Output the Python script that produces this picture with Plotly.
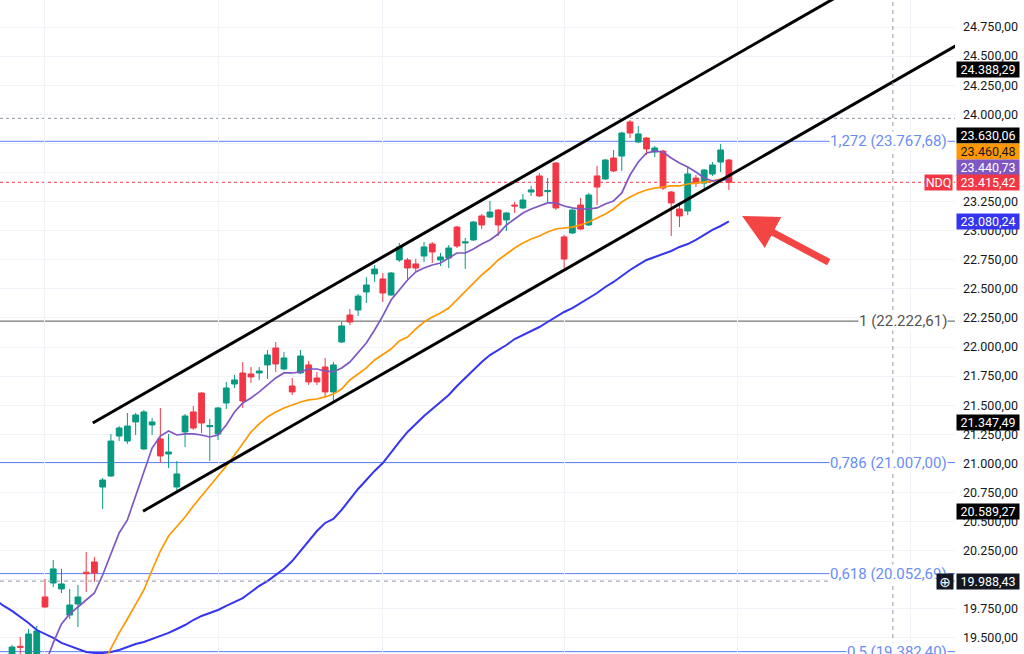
import plotly.graph_objects as go

# ---------------- data ----------------
candle_idx = list(range(88))
opens = [19330, 19428, 19340, 19350, 19852, 19972, 19921, 19697, 19792, 20065,
         20153, 20797, 20892, 21235, 21192, 21356, 21124, 21330, 21210, 21081,
         20797, 21270, 21442, 21605, 21315, 21253, 21519, 21682, 21777, 21768,
         21777, 21846, 21992, 21811, 21665, 21777, 21846, 21734, 21828, 21614,
         22043, 22275, 22318, 22473, 22628, 22585, 22447, 22748, 22748, 22714,
         22782, 22885, 22748, 22765, 23031, 22894, 22920, 23126, 23117, 23177,
         23092, 23220, 23195, 23332, 23470, 23335, 23581, 22946, 22980, 23220,
         23049, 23470, 23444, 23624, 23641, 23934, 23762, 23796, 23676, 23684,
         23332, 23186, 23169, 23452, 23409, 23487, 23590, 23607]
highs = [19440, 19508, 19577, 19603, 20007, 20170, 20093, 19921, 19955, 20239,
         20196, 20875, 21253, 21321, 21433, 21433, 21459, 21390, 21476, 21253,
         21021, 21424, 21493, 21610, 21382, 21485, 21700, 21760, 21871, 21828,
         21828, 21974, 22043, 21957, 21734, 21974, 21880, 21786, 21906, 21870,
         22215, 22327, 22455, 22602, 22705, 22636, 22645, 22894, 22765, 22757,
         22903, 22903, 22808, 22877, 23040, 22937, 23083, 23143, 23255, 23186,
         23160, 23246, 23315, 23384, 23495, 23452, 23590, 22963, 23186, 23281,
         23324, 23556, 23616, 23693, 23848, 23951, 23899, 23805, 23727, 23693,
         23341, 23220, 23556, 23478, 23530, 23590, 23745, 23616]
lows = [19300, 19330, 19320, 19320, 19760, 19938, 19886, 19663, 19594, 19895,
        19981, 20608, 20883, 21192, 21167, 21244, 21115, 21244, 21004, 20960,
        20763, 21141, 21287, 21261, 21021, 21201, 21467, 21648, 21476, 21691,
        21717, 21725, 21786, 21800, 21588, 21768, 21674, 21674, 21571, 21528,
        22035, 22189, 22266, 22378, 22559, 22387, 22440, 22731, 22585, 22645,
        22731, 22722, 22696, 22679, 22851, 22670, 22911, 23014, 23108, 22954,
        22997, 23152, 23186, 23298, 23289, 23238, 23177, 22679, 22971, 23005,
        23040, 23220, 23435, 23504, 23513, 23796, 23753, 23650, 23633, 23349,
        22954, 23031, 23135, 23375, 23358, 23470, 23504, 23349]
closes = [19422, 19420, 19534, 19560, 19766, 20093, 19964, 19783, 19852, 20052,
          20058, 20857, 21192, 21304, 21321, 21416, 21442, 21356, 21064, 21098,
          20909, 21407, 21304, 21347, 21325, 21476, 21648, 21717, 21536, 21743,
          21794, 21932, 21854, 21906, 21614, 21923, 21700, 21700, 21614, 21846,
          22181, 22215, 22438, 22533, 22670, 22464, 22636, 22860, 22679, 22679,
          22860, 22817, 22774, 22851, 22868, 22903, 23074, 23049, 23160, 23049,
          23152, 23212, 23263, 23350, 23298, 23345, 23195, 22756, 23177, 23014,
          23306, 23375, 23607, 23513, 23839, 23839, 23831, 23702, 23710, 23366,
          23238, 23126, 23487, 23409, 23521, 23564, 23693, 23415.42]

# moving averages
ma_fast_x = list(range(4, 88))
ma_fast = [19270, 19457, 19620, 19706, 19766, 19826, 19886, 20041, 20230, 20402,
           20514, 20720, 20943, 21132, 21235, 21278, 21244, 21253, 21253, 21244,
           21227, 21244, 21330, 21442, 21519, 21562, 21614, 21674, 21734, 21777,
           21777, 21786, 21811, 21811, 21794, 21786, 21820, 21871, 21949, 22035,
           22146, 22267, 22404, 22490, 22576, 22645, 22679, 22705, 22722, 22765,
           22808, 22808, 22842, 22885, 22920, 22971, 23049, 23100, 23152, 23186,
           23212, 23238, 23238, 23212, 23195, 23186, 23186, 23195, 23229, 23255,
           23324, 23478, 23590, 23667, 23684, 23676, 23624, 23581, 23547, 23504,
           23452, 23427, 23435, 23440.73]
ma_mid_x = list(range(11, 88))
ma_mid = [19276, 19414, 19543, 19663, 19783, 19912, 20084, 20247, 20376, 20453,
          20539, 20634, 20720, 20797, 20883, 20978, 21072, 21167, 21270, 21339,
          21399, 21442, 21476, 21502, 21528, 21545, 21553, 21571, 21596, 21639,
          21717, 21768, 21820, 21889, 21940, 21983, 22052, 22086, 22155, 22215,
          22258, 22292, 22335, 22404, 22473, 22550, 22619, 22679, 22748, 22799,
          22851, 22894, 22928, 22954, 22988, 23014, 23023, 23031, 23049, 23074,
          23109, 23143, 23186, 23246, 23289, 23324, 23349, 23366, 23375, 23384,
          23384, 23401, 23409, 23418, 23427, 23444, 23460.48]
ma_slow_x = list(range(-2, 88))
ma_slow = [19826, 19775, 19732, 19680, 19629, 19568, 19534, 19500, 19457, 19431,
           19405, 19379, 19371, 19371, 19379, 19397, 19422, 19448, 19465, 19491,
           19517, 19543, 19577, 19611, 19654, 19689, 19714, 19740, 19775, 19809,
           19843, 19895, 19947, 19989, 20041, 20093, 20161, 20247, 20342, 20419,
           20488, 20522, 20600, 20694, 20780, 20857, 20935, 21003, 21098, 21184,
           21270, 21339, 21407, 21467, 21528, 21588, 21665, 21734, 21803, 21871,
           21931, 21974, 22017, 22069, 22103, 22138, 22172, 22215, 22258, 22301,
           22335, 22378, 22421, 22464, 22516, 22559, 22610, 22662, 22705, 22748,
           22774, 22799, 22825, 22860, 22885, 22920, 22963, 23006, 23040, 23080.24]

fib_levels = ["1,272", "1", "0,786", "0,618", "0,5"]
fib_prices = [23767.68, 22222.61, 21007.00, 20052.69, 19382.40]
fib_line_colors = ["#5a7ff6", "#555555", "#5a7ff6", "#5a7ff6", "#5a7ff6"]
fib_text_colors = ["#6a8df7", "#555555", "#6a8df7", "#6a8df7", "#6a8df7"]

# parallel channel anchors (candle index, price)
upper_anchor_x = [9.8, 84.8]
upper_anchor_p = [21347.49, 24388.29]
lower_anchor_x = [15.9, 90.9]
lower_anchor_p = [20589.27, 23630.06]

last_price = 23415.42
high_line_price = 23965
crosshair_price = 19988.43
crosshair_idx = 106.9

badge_prices = [24388.29, 23630.06, 23460.48, 23440.73, 23415.42, 23080.24,
                21347.49, 20589.27, 19988.43]
badge_colors = ["#000000", "#000000", "#ff9800", "#7e57c2", "#f23645", "#3535f0",
                "#000000", "#000000", "#131722"]
badge_text_colors = ["white", "white", "#131722", "white", "white", "white",
                     "white", "white", "white"]
badge_yshift = [0, 22, 26, 12, 0, 0, 0, 0, 0]

arrow_tip = (88.6, 23126)
arrow_tail = (99.3, 22722)

month_grid_idx = [4, 25, 45, 67, 88, 109]
y_ticks = [19500 + 250 * k for k in range(22)]
hidden_ticks = [20000, 23500, 23750]  # covered by price badges in the original

X_MIN, X_MAX = -1.46, 114.44
Y_MIN, Y_MAX = 19362, 24982

GREEN = "#089981"
RED = "#f23645"


def fmt_price(v):
    s = f"{v:,.2f}"
    return s.replace(",", "X").replace(".", ",").replace("X", ".")


# ---------------- figure ----------------
fig = go.Figure()

fig.add_trace(go.Candlestick(
    x=candle_idx, open=opens, high=highs, low=lows, close=closes,
    increasing=dict(line=dict(color=GREEN, width=1), fillcolor=GREEN),
    decreasing=dict(line=dict(color=RED, width=1), fillcolor=RED),
    whiskerwidth=0, showlegend=False, hoverinfo="skip"))

fig.add_trace(go.Scatter(x=ma_slow_x, y=ma_slow, mode="lines",
                         line=dict(color="#3535f0", width=2), hoverinfo="skip", showlegend=False))
fig.add_trace(go.Scatter(x=ma_mid_x, y=ma_mid, mode="lines",
                         line=dict(color="#ff9800", width=1.7), hoverinfo="skip", showlegend=False))
fig.add_trace(go.Scatter(x=ma_fast_x, y=ma_fast, mode="lines",
                         line=dict(color="#7e57c2", width=1.7), hoverinfo="skip", showlegend=False))

# channel lines, extended to the right edge
for ax_, ap_ in [(upper_anchor_x, upper_anchor_p), (lower_anchor_x, lower_anchor_p)]:
    slope = (ap_[1] - ap_[0]) / (ax_[1] - ax_[0])
    end_p = ap_[0] + slope * (X_MAX + 5 - ax_[0])
    fig.add_trace(go.Scatter(x=[ax_[0], X_MAX + 5], y=[ap_[0], end_p], mode="lines",
                             line=dict(color="#000000", width=3), hoverinfo="skip",
                             showlegend=False))

shapes = []
for p, c in zip(fib_prices, fib_line_colors):
    shapes.append(dict(type="line", xref="paper", x0=0, x1=1, yref="y", y0=p, y1=p,
                       line=dict(color=c, width=1), layer="below"))
shapes.append(dict(type="line", xref="paper", x0=0, x1=1, yref="y", y0=high_line_price,
                   y1=high_line_price, line=dict(color="#9598a1", width=1, dash="dot"), layer="below"))
shapes.append(dict(type="line", xref="paper", x0=0, x1=1, yref="y", y0=last_price,
                   y1=last_price, line=dict(color=RED, width=1, dash="dot"), layer="below"))
shapes.append(dict(type="line", xref="paper", x0=0, x1=1, yref="y", y0=crosshair_price,
                   y1=crosshair_price, line=dict(color="#9598a1", width=1, dash="4px,4px"), layer="above"))
shapes.append(dict(type="line", xref="x", x0=crosshair_idx, x1=crosshair_idx, yref="paper",
                   y0=0, y1=1, line=dict(color="#9598a1", width=1, dash="4px,4px"), layer="above"))

annotations = []
for lvl, p, tc in zip(fib_levels, fib_prices, fib_text_colors):
    annotations.append(dict(xref="paper", x=0.9927, xanchor="right", yref="y", y=p,
                            text=f"{lvl} ({fmt_price(p)})", showarrow=False,
                            font=dict(family="Roboto", size=15, color=tc),
                            bgcolor="white", borderpad=0))

for p, bc, tc, ys in zip(badge_prices, badge_colors, badge_text_colors, badge_yshift):
    annotations.append(dict(xref="paper", x=1, xanchor="left", xshift=1, yref="y", y=p,
                            yshift=ys, text=fmt_price(p), showarrow=False, width=62, height=15,
                            align="center", valign="middle",
                            font=dict(family="Roboto", size=12.5, color=tc),
                            bgcolor=bc, borderpad=0))

annotations.append(dict(xref="paper", x=1, xanchor="right", xshift=-2, yref="y", y=last_price,
                        text="NDQ", showarrow=False, width=27, height=15, align="center",
                        valign="middle",
                        font=dict(family="Roboto", size=12.5, color="white"),
                        bgcolor=RED, borderpad=0))
annotations.append(dict(xref="paper", x=1, xanchor="right", xshift=-1, yref="y", y=crosshair_price,
                        text="⊕", showarrow=False, width=16, height=15, align="center",
                        valign="middle",
                        font=dict(family="DejaVu Sans", size=14, color="white"),
                        bgcolor="#131722", borderpad=0))

annotations.append(dict(x=arrow_tip[0], y=arrow_tip[1], xref="x", yref="y",
                        ax=arrow_tail[0], ay=arrow_tail[1], axref="x", ayref="y",
                        showarrow=True, arrowhead=2, arrowsize=1, arrowwidth=7,
                        arrowcolor="#f44545", text=""))

tick_text = ["" if v in hidden_ticks else fmt_price(v) for v in y_ticks]

fig.update_layout(
    width=1024, height=654,
    margin=dict(l=0, r=69, t=0, b=0),
    paper_bgcolor="white", plot_bgcolor="white",
    separators=",.",
    hovermode=False, showlegend=False,
    boxgap=0.3, boxgroupgap=0,
    shapes=shapes, annotations=annotations,
    xaxis=dict(range=[X_MIN, X_MAX], showticklabels=False, tickvals=month_grid_idx,
               showgrid=True, gridcolor="#f0f3fa", zeroline=False,
               rangeslider=dict(visible=False), fixedrange=True),
    yaxis=dict(range=[Y_MIN, Y_MAX], side="right", tickvals=y_ticks, ticktext=tick_text,
               showgrid=True, gridcolor="#f0f3fa", zeroline=False, ticks="",
               ticklabelstandoff=7,
               tickfont=dict(family="Roboto", size=12.5, color="#131722"), fixedrange=True),
)

fig.write_html("out.html", config={"displayModeBar": False},
               post_script="document.body.style.margin='0';document.body.style.overflow='hidden';")
